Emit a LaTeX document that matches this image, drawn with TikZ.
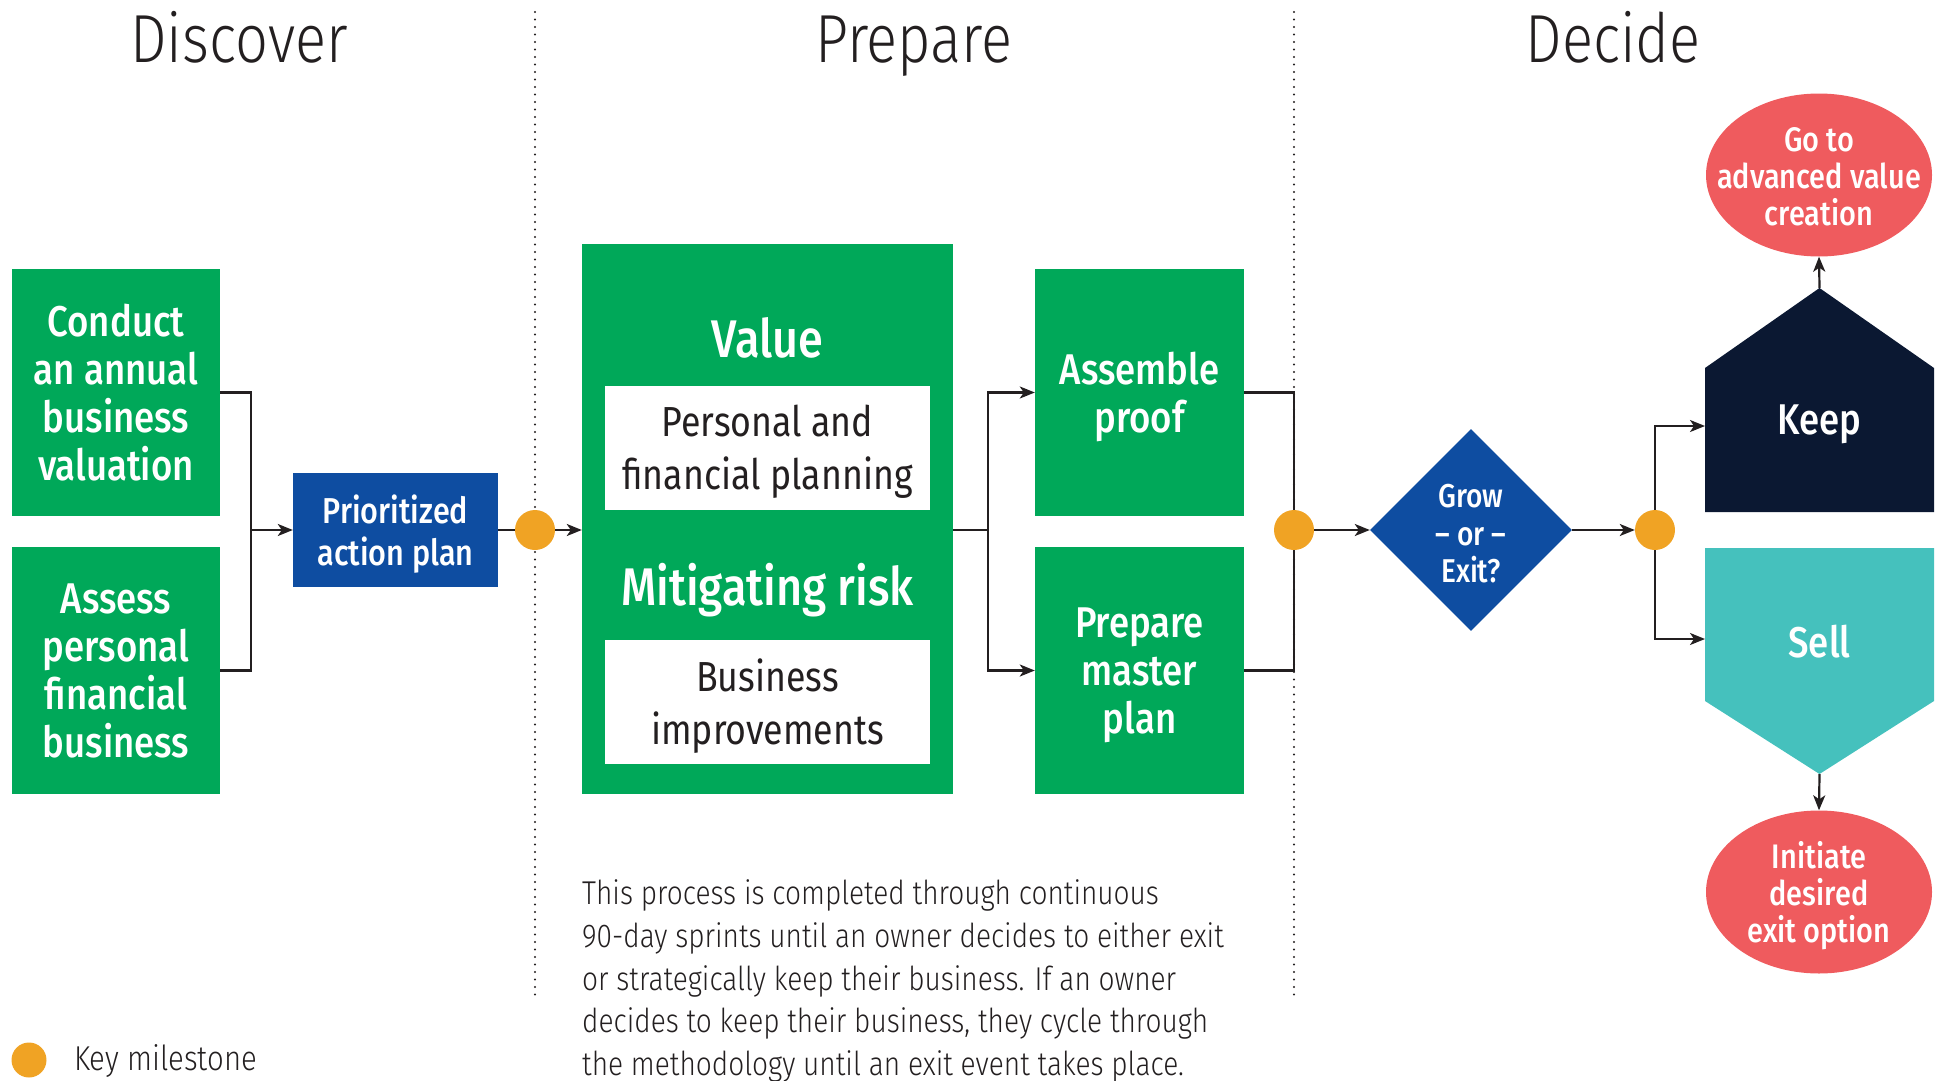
\documentclass[tikz,border=0pt]{standalone}
\usepackage{fontspec}
\usetikzlibrary{arrows.meta,shapes.geometric,backgrounds}
\newfontfamily\ltf{Fira Sans Light}[FakeStretch=0.85]
\newfontfamily\rgf{Fira Sans}[FakeStretch=0.85]
\newfontfamily\mdf{Fira Sans Medium}[FakeStretch=0.85]
\definecolor{cgreen}{HTML}{00A859}
\definecolor{cblue}{HTML}{0E4DA1}
\definecolor{cnavy}{HTML}{0B1832}
\definecolor{cteal}{HTML}{45C1BD}
\definecolor{ccoral}{HTML}{EF5B5E}
\definecolor{corange}{HTML}{F0A324}
\definecolor{cdark}{HTML}{231F20}
\tikzset{
  gbox/.style={rectangle, fill=cgreen, text=white, inner sep=0pt, align=center,
    minimum width=208pt, minimum height=247pt, font=\mdf\fontsize{43}{48}\selectfont},
  gtxt/.style={text=white, inner sep=0pt, align=center, font=\mdf\fontsize{43}{48}\selectfont},
  wbox/.style={rectangle, fill=white, text=cdark, inner sep=0pt, align=center,
    minimum width=325pt, minimum height=124pt, font=\rgf\fontsize{42}{53}\selectfont},
  mile/.style={circle, fill=corange, inner sep=0pt, minimum size=40pt},
  oval/.style={ellipse, fill=ccoral, inner sep=0pt, minimum width=226pt, minimum height=163pt},
  ovtxt/.style={text=white, inner sep=0pt, align=center, font=\mdf\fontsize{34}{37}\selectfont},
  ttl/.style={text=cdark, anchor=base, font=\ltf\fontsize{68}{68}\selectfont},
  ln/.style={draw=cdark, line width=2.2pt},
  arr/.style={ln, -{Stealth[length=15pt,width=12pt,inset=4pt]}},
  dots/.style={draw=cdark, line width=2.4pt, line cap=round, dash pattern=on 0pt off 7.5pt}
}
\begin{document}
\begin{tikzpicture}[x=1pt,y=-1pt]
\useasboundingbox (0,0) rectangle (1941,1081);

% titles
\node[ttl] (t1) at (239,63) {Discover};
\node[ttl] (t2) at (914,63) {Prepare};
\node[ttl] (t3) at (1613,63) {Decide};

% discover
\node[gbox] (conduct) at (116,392.5) {};
\node[gtxt] (conductt) at (116,393) {Conduct\\an annual\\business\\valuation};
\node[gbox] (assess) at (116,670.5) {};
\node[gtxt] (assesst) at (116,671) {Assess\\personal\\financial\\business};
\node[rectangle, fill=cblue, inner sep=0pt,
  minimum width=205pt, minimum height=114pt] (prio) at (395.5,530) {};
\node[text=white, inner sep=0pt, align=center, font=\mdf\fontsize{36}{42}\selectfont]
  (priot) at (395.5,534) {Prioritized\\action plan};
\node[mile] (m1) at (535,530) {};

% prepare
\node[rectangle, fill=cgreen, inner sep=0pt, minimum width=371pt, minimum height=550pt]
  (big) at (767.5,519) {};
\node[text=white, font=\mdf\fontsize{53}{53}\selectfont] (value) at (767.5,338) {Value};
\node[wbox] (pfp) at (767.5,448) {};
\node[text=cdark, inner sep=0pt, align=center, font=\rgf\fontsize{42}{53}\selectfont]
  (pfpt) at (767.5,452) {Personal and\\financial planning};
\node[text=white, font=\mdf\fontsize{53}{53}\selectfont] (mitig) at (767.5,590) {Mitigating risk};
\node[wbox] (biz) at (767.5,702) {};
\node[text=cdark, inner sep=0pt, align=center, font=\rgf\fontsize{42}{53}\selectfont]
  (bizt) at (767.5,706) {Business\\improvements};
\node[gbox, minimum width=209pt] (assemble) at (1139.5,392.5) {};
\node[gtxt] (assemblet) at (1139.5,397) {Assemble\\proof};
\node[gbox, minimum width=209pt] (master) at (1139.5,670.5) {};
\node[gtxt] (mastert) at (1139.5,675) {Prepare\\master\\plan};
\node[mile] (m2) at (1294,530) {};

% decide
\node[diamond, aspect=1, fill=cblue, inner sep=0pt,
  minimum width=202pt, minimum height=202pt] (dia) at (1471,530) {};
\node[text=white, inner sep=0pt, align=center, font=\mdf\fontsize{33}{37.5}\selectfont]
  (diat) at (1471,534) {Grow\\– or –\\Exit?};
\node[mile] (m3) at (1655,530) {};

\fill[cnavy] (1705,512) -- (1705,368) -- (1819.5,288) -- (1934,368) -- (1934,512) -- cycle;
\coordinate (keeptop) at (1819.5,288);
\coordinate (keepin) at (1705,426);
\node[text=white, font=\mdf\fontsize{43}{43}\selectfont] (keep) at (1819.5,424) {Keep};

\fill[cteal] (1705,548) -- (1934,548) -- (1934,701) -- (1819.5,774) -- (1705,701) -- cycle;
\coordinate (sellpt) at (1819.5,774);
\coordinate (sellin) at (1705,639);
\node[text=white, font=\mdf\fontsize{43}{43}\selectfont] (sell) at (1819.5,642) {Sell};

\node[oval] (goto) at (1819,175) {};
\node[ovtxt] (gotot) at (1819,177) {Go to\\advanced value\\creation};
\node[oval] (exitopt) at (1819,892) {};
\node[ovtxt] (exitoptt) at (1819,896) {Initiate\\desired\\exit option};

% paragraph
\node[anchor=west, align=left, text=cdark, inner sep=0pt, font=\ltf\fontsize{33}{42.7}\selectfont]
  (para) at (582,981) {This process is completed through continuous\\
90-day sprints until an owner decides to either exit\\
or strategically keep their business. If an owner\\
decides to keep their business, they cycle through\\
the methodology until an exit event takes place.};

% legend
\node[mile, minimum size=35pt] (legdot) at (29,1060) {};
\node[anchor=west, text=cdark, inner sep=0pt, font=\ltf\fontsize{34.5}{34.5}\selectfont]
  (legtxt) at (74,1061) {Key milestone};

% connectors
\begin{scope}[on background layer]
\draw[dots] (535,12) -- (535,997);
\draw[dots] (1294,12) -- (1294,997);
\coordinate (j1) at (251,530);
\draw[ln] (conduct.east) -| (j1) |- (assess.east);
\draw[arr] (j1) -- (prio.west);
\draw[arr] (prio.east) -- (big.west |- m1);
\coordinate (j2) at (988,530);
\draw[ln] (big.east |- j2) -- (j2);
\draw[arr] (j2) |- (assemble.west);
\draw[arr] (j2) |- (master.west);
\draw[ln] (assemble.east) -| (m2.center) |- (master.east);
\draw[arr] (m2.east) -- (dia.west);
\draw[arr] (dia.east) -- (m3.west);
\draw[arr] (m3.north) |- (keepin);
\draw[arr] (m3.south) |- (sellin);
\draw[arr] (keeptop) -- (goto.south);
\draw[arr] (sellpt) -- (exitopt.north);
\end{scope}
\end{tikzpicture}
\end{document}
